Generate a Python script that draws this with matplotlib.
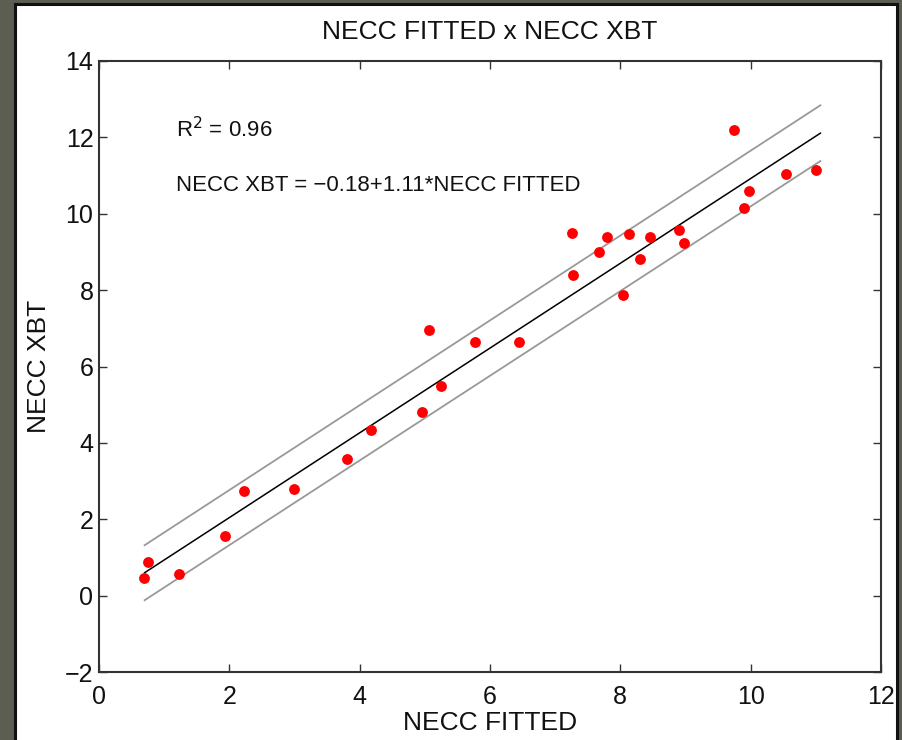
import numpy as np
import matplotlib
matplotlib.use('Agg')
import matplotlib.pyplot as plt
from matplotlib.patches import Rectangle

# data
necc_fitted = [0.69, 0.75, 1.23, 1.93, 2.22, 2.99, 3.81, 4.17, 4.96, 5.06,
               5.25, 5.77, 6.44, 7.26, 7.27, 7.67, 7.80, 8.04, 8.13, 8.30,
               8.45, 8.90, 8.98, 9.74, 9.90, 9.97, 10.54, 11.00]
necc_xbt = [0.46, 0.88, 0.56, 1.56, 2.73, 2.78, 3.59, 4.33, 4.82, 6.96,
            5.50, 6.63, 6.65, 9.50, 8.40, 9.00, 9.40, 7.88, 9.48, 8.82,
            9.40, 9.58, 9.24, 12.20, 10.16, 10.60, 11.04, 11.15]

# regression line and upper/lower bounds (end points)
fit_x = [0.70, 11.07]
fit_y = [0.60, 12.11]
upper_y = [1.32, 12.84]
lower_y = [-0.12, 11.38]

x_ticks = [0, 2, 4, 6, 8, 10, 12]
y_ticks = [-2, 0, 2, 4, 6, 8, 10, 12, 14]

plt.rcParams['font.family'] = ['Liberation Sans', 'DejaVu Sans']

W, H = 902, 740
fig = plt.figure(figsize=(W / 100, H / 100), dpi=100)
fig.patch.set_facecolor('#5c5e52')
# white panel with dark frame
fig.patches.append(Rectangle((14.5 / W, -0.05), (896.5 - 14.5) / W, 1.05 - 4 / H,
                             transform=fig.transFigure, facecolor='white',
                             edgecolor='#111111', linewidth=2.2, zorder=-1))

ax = fig.add_axes([99 / W, 1 - 672 / H, (881 - 99) / W, (672 - 61) / H])
ax.set_zorder(1)
ax.set_facecolor('white')

ax.plot(fit_x, upper_y, color='#999999', lw=1.3)
ax.plot(fit_x, lower_y, color='#999999', lw=1.3)
ax.plot(fit_x, fit_y, color='black', lw=1.1)
ax.plot(necc_fitted, necc_xbt, 'o', color='#ff0000', markersize=7.8, markeredgewidth=0)

ax.set_xlim(0, 12)
ax.set_ylim(-2, 14)
ax.set_xticks(x_ticks)
ax.set_yticks(y_ticks)
ax.tick_params(direction='in', top=True, right=True, length=6, width=1,
               labelsize=18, colors='#333333', labelcolor='#111111')
ax.tick_params(axis='x', pad=9)
ax.tick_params(axis='y', pad=4)
for s in ax.spines.values():
    s.set_linewidth(1.5)
    s.set_color('#333333')

ax.set_title('NECC FITTED x NECC XBT', fontsize=19, color='#111111', pad=16)
ax.set_xlabel('NECC FITTED', fontsize=19, color='#111111', labelpad=2)
ax.set_ylabel('NECC XBT', fontsize=19, color='#111111', labelpad=10)

ax.text(1.18, 12.2, r'R$^2$ = 0.96', fontsize=16, color='#111111', va='center')
ax.text(1.18, 10.75, 'NECC XBT = \u22120.18+1.11*NECC FITTED', fontsize=16,
        color='#111111', va='center')

fig.savefig('out.png', dpi=100, facecolor=fig.get_facecolor())
